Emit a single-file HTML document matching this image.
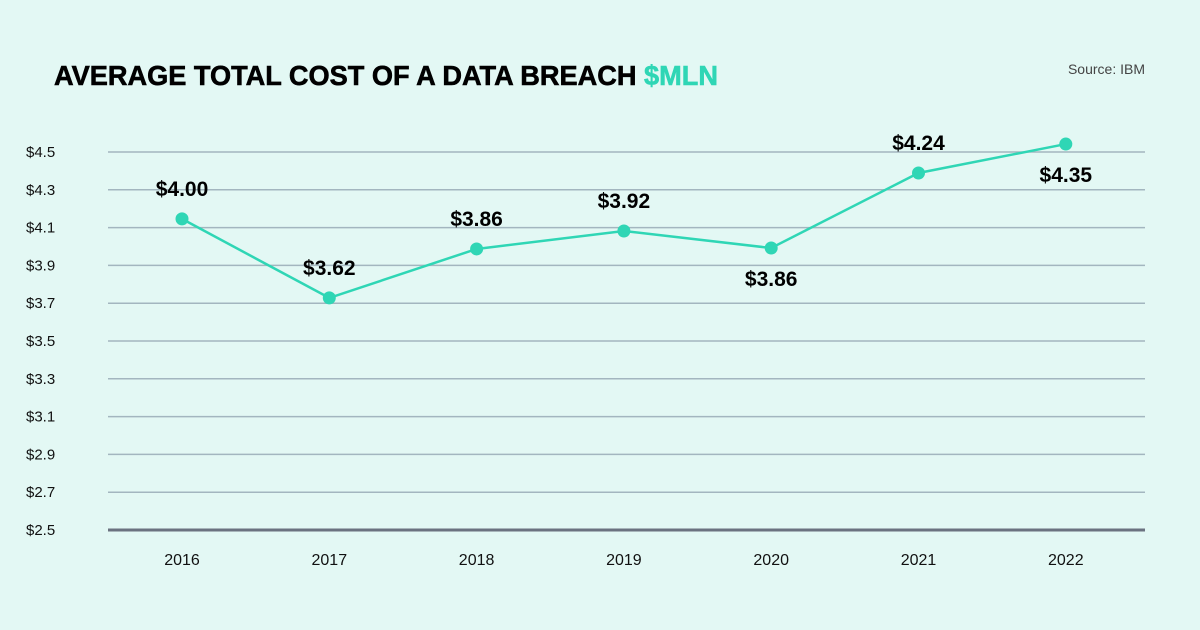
<!DOCTYPE html>
<html><head><meta charset="utf-8">
<style>
body{margin:0;background:#e3f8f4;}
svg{display:block;font-family:"Liberation Sans",sans-serif;}
</style></head>
<body>
<svg id="chart" width="1200" height="630" viewBox="0 0 1200 630">
<rect width="1200" height="630" fill="#e3f8f4"/>
<text x="54" y="85" font-size="28" font-weight="900" fill="#000" stroke="#000" stroke-width="0.6" textLength="664" lengthAdjust="spacingAndGlyphs">AVERAGE TOTAL COST OF A DATA BREACH <tspan fill="#2fd6b5" stroke="#2fd6b5">$MLN</tspan></text>
<text x="1145" y="74" font-size="14" fill="#444" text-anchor="end">Source: IBM</text>
<g id="grid"></g><g id="axes"></g><g id="series"></g>
</svg>
<script>
const categories=["2016","2017","2018","2019","2020","2021","2022"];
const values=[4.146,3.728,3.987,4.082,3.992,4.389,4.542];
const valueLabels=["$4.00","$3.62","$3.86","$3.92","$3.86","$4.24","$4.35"];
const labelBelow=[false,false,false,false,true,false,true];
const yTicks=[2.5,2.7,2.9,3.1,3.3,3.5,3.7,3.9,4.1,4.3,4.5];
const NS="http://www.w3.org/2000/svg";
const x0=108,x1=1145,yTop=152,yBot=530,vMin=2.5,vMax=4.5;
const band=147.3;
const xs=i=>x0+74+band*i;
const ys=v=>yBot-(v-vMin)/(vMax-vMin)*(yBot-yTop);
function mk(t,a,p){const e=document.createElementNS(NS,t);for(const k in a)e.setAttribute(k,a[k]);p.appendChild(e);return e;}
const grid=document.getElementById('grid'),axes=document.getElementById('axes'),series=document.getElementById('series');
yTicks.forEach(v=>{
 const l=mk('line',{x1:x0,x2:x1,y1:ys(v),y2:ys(v),stroke:v===vMin?'#6b7280':'#a3b6bf','stroke-width':v===vMin?3:1.5},grid);
 
 
 const t=mk('text',{x:26,y:ys(v)+5,'font-size':15,fill:'#111'},axes);t.textContent='$'+v.toFixed(1);
 
 
});
categories.forEach((c,i)=>{
 const t=mk('text',{x:xs(i),y:565,'font-size':16,fill:'#111','text-anchor':'middle'},axes);t.textContent=c;
 
 
});
const path=mk('polyline',{points:values.map((v,i)=>xs(i)+','+ys(v)).join(' '),fill:'none',stroke:'#2fd6b5','stroke-width':2.5},series);


values.forEach((v,i)=>{
 const c=mk('circle',{cx:xs(i),cy:ys(v),r:6.5,fill:'#2fd6b5'},series);
 
 
 const ty=labelBelow[i]?ys(v)+38:ys(v)-23;
 const t=mk('text',{x:xs(i),y:ty,'font-size':21,'font-weight':'bold',fill:'#000','text-anchor':'middle'},series);
 t.textContent=valueLabels[i];
 
 
});
</script>
</body></html>
